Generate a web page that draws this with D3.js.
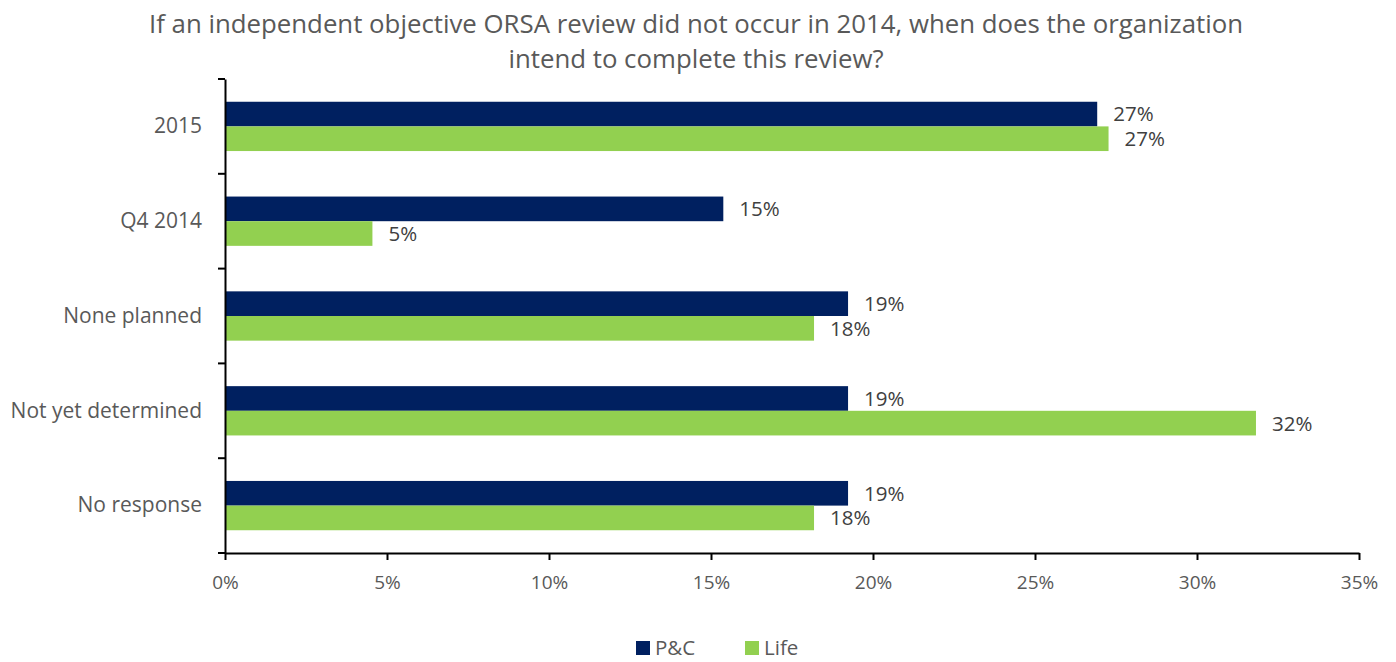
<!DOCTYPE html>
<html>
<head>
<meta charset="utf-8">
<script src="https://cdn.jsdelivr.net/npm/d3@7"></script>
<style>
  html, body { margin: 0; padding: 0; background: #ffffff; }
  svg { display: block; font-family: "Open Sans", "Noto Sans", sans-serif; }
</style>
</head>
<body>
<svg id="chart" width="1396" height="662"></svg>
<script>
// Survey responses: share of organizations by planned review timing
const categories = ["2015", "Q4 2014", "None planned", "Not yet determined", "No response"];
const seriesNames = ["P&C", "Life"];
const pcValues = [0.2692, 0.1538, 0.1923, 0.1923, 0.1923];
const lifeValues = [0.2727, 0.0455, 0.1818, 0.3182, 0.1818];
const xTicks = [0, 0.05, 0.10, 0.15, 0.20, 0.25, 0.30, 0.35];
const titleLines = [
  "If an independent objective ORSA review did not occur in 2014, when does the organization",
  "intend to complete this review?"
];

const FONT = '"Open Sans", "Noto Sans", sans-serif';
const colors = { "P&C": "#002060", "Life": "#92D050" };
const seriesValues = { "P&C": pcValues, "Life": lifeValues };

const svg = d3.select("#chart");
const margin = { left: 225, right: 37, top: 79, bottom: 109 };
const width = 1396, height = 662;

const x = d3.scaleLinear().domain([0, 0.35]).range([margin.left, width - margin.right]);
const y = d3.scaleBand().domain(categories).range([margin.top, height - margin.bottom]).paddingInner(0.48).paddingOuter(0.24);
const sub = d3.scaleBand().domain(seriesNames).range([0, y.bandwidth()]);

// Title
svg.append("g").selectAll("text").data(titleLines).join("text")
  .attr("x", 696).attr("y", (d, i) => 33 + i * 35)
  .attr("text-anchor", "middle")
  .attr("fill", "#595959")
  .style("font-size", "25.8px")
  .text(d => d);

// Bars
const groups = svg.append("g").selectAll("g").data(seriesNames).join("g")
  .attr("fill", s => colors[s]);

groups.selectAll("rect").data(s => categories.map((c, i) => ({ s, c, v: seriesValues[s][i] })))
  .join("rect")
  .attr("x", x(0))
  .attr("y", d => y(d.c) + sub(d.s))
  .attr("width", d => x(d.v) - x(0))
  .attr("height", sub.bandwidth());

// Value labels
groups.selectAll("text").data(s => categories.map((c, i) => ({ s, c, v: seriesValues[s][i] })))
  .join("text")
  .attr("x", d => x(d.v) + 16)
  .attr("y", d => y(d.c) + sub(d.s) + sub.bandwidth() / 2)
  .attr("dy", "0.36em")
  .attr("fill", "#404040")
  .style("font-size", "20.5px")
  .text(d => d3.format(".0%")(d.v));

// Axes
const fullBand = d3.scaleBand().domain(categories).range([margin.top, height - margin.bottom]);

const yAxis = svg.append("g")
  .attr("transform", `translate(${x(0)},0)`)
  .call(d3.axisLeft(fullBand).tickSize(0).tickPadding(23))
  .attr("font-family", FONT).attr("font-size", 21);
yAxis.select(".domain").attr("stroke", "#000").attr("stroke-width", 2);
yAxis.selectAll("text").attr("fill", "#595959");

// Category separators on the vertical axis
const sepPositions = categories.map(c => fullBand(c)).concat([height - margin.bottom]);
svg.append("g").selectAll("line").data(sepPositions).join("line")
  .attr("x1", x(0) - 7).attr("x2", x(0))
  .attr("y1", d => d).attr("y2", d => d)
  .attr("stroke", "#000").attr("stroke-width", 2);

const xAxis = svg.append("g")
  .attr("transform", `translate(0,${height - margin.bottom})`)
  .call(d3.axisBottom(x).tickValues(xTicks).tickFormat(d3.format(".0%")).tickSize(7).tickSizeOuter(0).tickPadding(16))
  .attr("font-family", FONT).attr("font-size", 19);
xAxis.select(".domain").attr("stroke", "#000").attr("stroke-width", 2);
xAxis.selectAll(".tick line").attr("stroke", "#000").attr("stroke-width", 2);
xAxis.selectAll("text").attr("fill", "#595959");

// Legend
const legend = svg.append("g").selectAll("g").data(seriesNames).join("g")
  .attr("transform", (d, i) => `translate(${636 + i * 109},641)`);
legend.append("rect").attr("width", 14).attr("height", 14).attr("fill", d => colors[d]);
legend.append("text").attr("x", 19).attr("y", 7).attr("dy", "0.35em")
  .attr("fill", "#595959").style("font-size", "20.5px").text(d => d);
</script>
</body>
</html>
